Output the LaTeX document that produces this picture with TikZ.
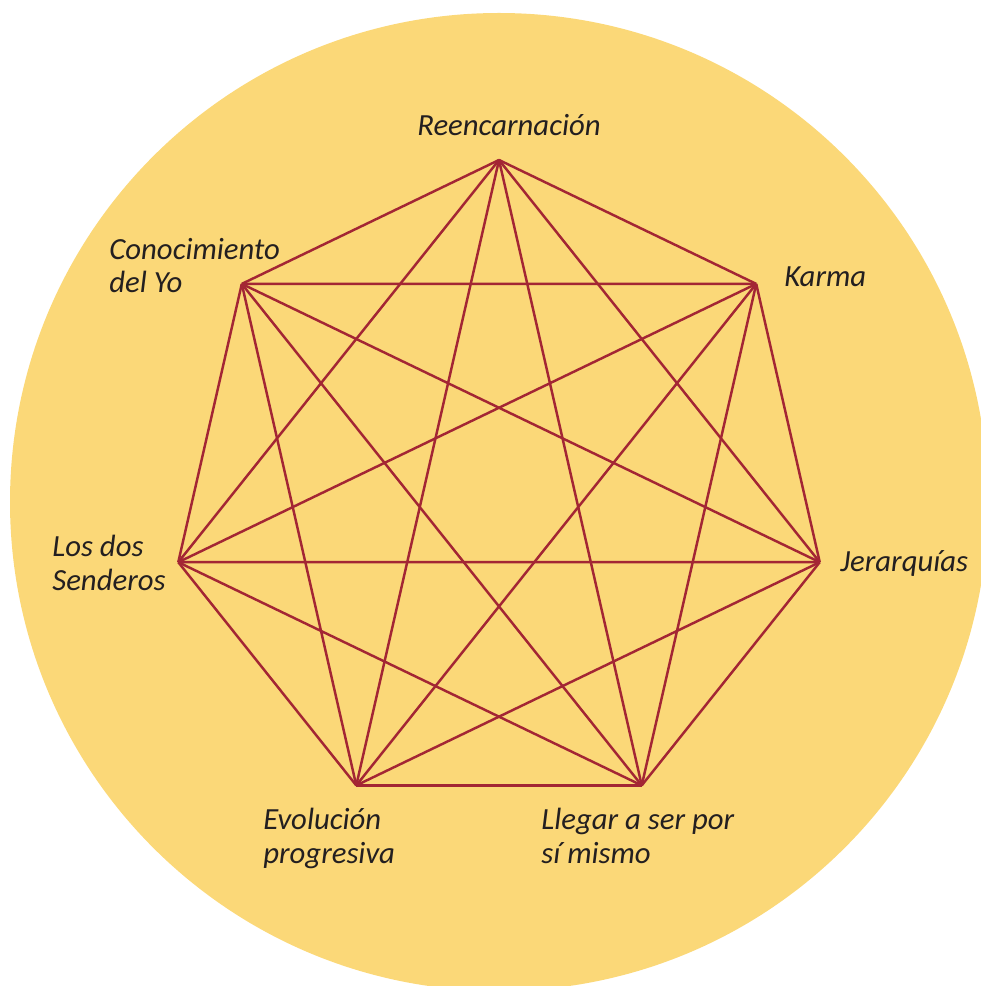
\documentclass[tikz,border=0pt]{standalone}
\usepackage{fontspec}
\setmainfont{Carlito}
\definecolor{fondo}{RGB}{251,216,120}
\definecolor{linea}{RGB}{163,38,52}
\definecolor{texto}{RGB}{35,31,32}
\begin{document}
\begin{tikzpicture}[x=.02cm,y=-.02cm,every node/.style={font=\fontsize{17.5}{19}\selectfont\itshape,text=texto,inner sep=0pt,align=left},lado/.style={draw=linea,line width=1.4pt,line join=round}]
\useasboundingbox (0,0) rectangle (980,986);
\fill[fondo] (499,502) circle (489);
% vertices del heptagono
\foreach \i in {0,...,6} \coordinate (v\i) at ([shift={(499,489)}]{-90+\i*360/7}:329);
\foreach \i [evaluate=\i as \k using int(\i+1)] in {0,...,5} \foreach \j in {\k,...,6} \draw[lado] (v\i)--(v\j);
% etiquetas (base = ultima linea)
\node[anchor=base] (reenc) at (509,136) {Reencarnación};
\node[anchor=base west] (karma) at (784,287) {Karma};
\node[anchor=base west] (jerarq) at (840,571) {Jerarquías};
\node[anchor=base west] (llegar) at (541,863) {Llegar a ser por\\sí mismo};
\node[anchor=base west] (evol) at (263,863) {Evolución\\progresiva};
\node[anchor=base west] (senderos) at (52,590) {Los dos\\Senderos};
\node[anchor=base west] (conoc) at (109,293) {Conocimiento\\del Yo};
\end{tikzpicture}
\end{document}
